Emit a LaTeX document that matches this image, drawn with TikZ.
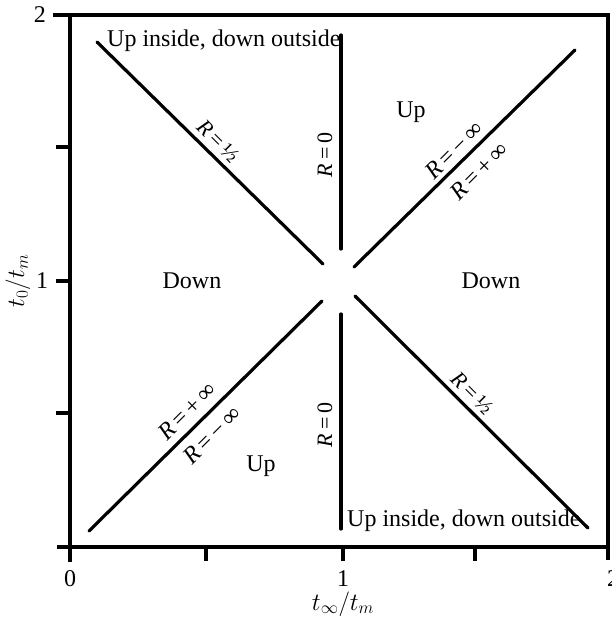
\documentclass[tikz,border=0pt]{standalone}
\usepackage{fontspec}
\setmainfont{Liberation Serif}
\begin{document}
\begin{tikzpicture}[x=1pt,y=-1pt,
  ax/.style={line width=3.3pt},
  curve/.style={line width=3.2pt, line cap=round},
  lbl/.style={font=\fontsize{24}{26}\selectfont, inner sep=0pt},
  rl/.style={font=\fontsize{22}{24}\selectfont, inner sep=0pt},
  rinf/.style={font=\fontsize{24}{26}\selectfont, inner sep=0pt}]
\useasboundingbox (0,0) rectangle (611,619);
% frame
\coordinate (tl) at (53,15);
\coordinate (tr) at (608,15);
\coordinate (br) at (608,560);
\coordinate (bl) at (57,547);
\coordinate (brx) at (608,547);
\coordinate (lt) at (70,15);
\coordinate (lb) at (70,562);
\draw[ax] (tl) -- (tr) -- (br);
\draw[ax] (bl) -- (brx);
\draw[ax] (lt) -- (lb);
% ticks
\foreach \y/\n in {147/a,281/b,413/c}{
  \coordinate (yt\n) at (70,\y); \coordinate (ys\n) at (56,\y);
  \draw[ax] (yt\n) -- (ys\n);}
\foreach \x/\n in {206/a,343/b,475/c}{
  \coordinate (xt\n) at (\x,547); \coordinate (xs\n) at (\x,561);
  \draw[ax] (xt\n) -- (xs\n);}
% tick labels
\node[lbl] (y2) at (40,15) {2};
\node[lbl] (y1) at (42,281) {1};
\node[lbl] (x0) at (70,579) {0};
\node[lbl] (x1) at (343,579) {1};
\node[lbl] (x2) at (613,579) {2};
\node[lbl, rotate=90] (ylab) at (18,281) {$t_0/t_m$};
\node[lbl] (xlab) at (343,604) {$t_\infty/t_m$};
% lines
\coordinate (a1) at (97,42);   \coordinate (a2) at (323,264);
\coordinate (b1) at (354,267); \coordinate (b2) at (575,50);
\coordinate (c1) at (89,531);  \coordinate (c2) at (322,301);
\coordinate (d1) at (355,296); \coordinate (d2) at (588,528);
\coordinate (e1) at (341,35);  \coordinate (e2) at (341,249);
\coordinate (f1) at (341,314); \coordinate (f2) at (341,529);
\draw[curve] (a1) -- (a2);
\draw[curve] (b1) -- (b2);
\draw[curve] (c1) -- (c2);
\draw[curve] (d1) -- (d2);
\draw[curve] (e1) -- (e2);
\draw[curve] (f1) -- (f2);
% region labels
\node[lbl, anchor=west] (uidtop) at (107,41) {Up inside, down outside};
\node[lbl, anchor=west] (uidbot) at (347,521) {Up inside, down outside};
\node[lbl] (up1) at (411,112) {Up};
\node[lbl] (up2) at (261,466) {Up};
\node[lbl] (dn1) at (192,281) {Down};
\node[lbl] (dn2) at (491,281) {Down};
% R labels
\node[rl, rotate=90] (r0a) at (325,155) {\textit{R}\,=\,0};
\node[rl, rotate=90] (r0b) at (325,425) {\textit{R}\,=\,0};
\node[rl, rotate=-45] (rha) at (218,141) {\textit{R}\,=\,½};
\node[rl, rotate=-45] (rhb) at (472,393) {\textit{R}\,=\,½};
\node[rinf, rotate=45] (rma) at (454,150) {\textit{R}\,=\,−\,∞};
\node[rinf, rotate=45] (rpa) at (479,171) {\textit{R}\,=\,+\,∞};
\node[rinf, rotate=45] (rpb) at (187,411) {\textit{R}\,=\,+\,∞};
\node[rinf, rotate=45] (rmb) at (212,435) {\textit{R}\,=\,−\,∞};
\end{tikzpicture}
\end{document}
